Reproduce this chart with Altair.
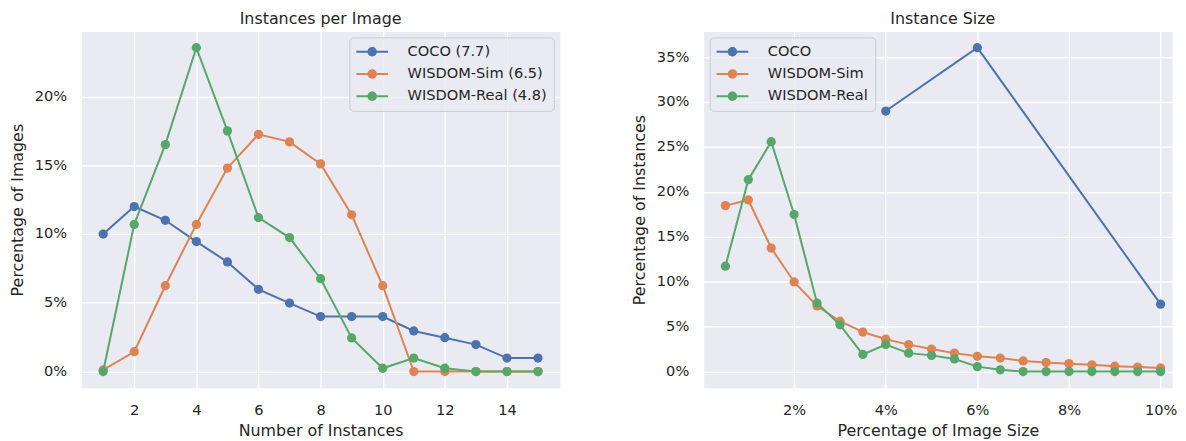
import altair as alt
import pandas as pd

# ---------------- data ----------------
inst_x = [1, 2, 3, 4, 5, 6, 7, 8, 9, 10, 11, 12, 13, 14, 15]
coco_inst = [10.0, 12.0, 11.0, 9.45, 7.97, 5.98, 4.98, 4.0, 4.0, 4.0, 2.95, 2.46, 1.96, 0.98, 0.98]
sim_inst = [0.12, 1.44, 6.24, 10.7, 14.8, 17.25, 16.7, 15.1, 11.4, 6.24, 0.0, 0.0, 0.0, 0.0, 0.0]
real_inst = [0.0, 10.7, 16.5, 23.55, 17.5, 11.2, 9.74, 6.75, 2.44, 0.24, 0.98, 0.24, 0.0, 0.0, 0.0]
inst_labels = ["COCO (7.7)", "WISDOM-Sim (6.5)", "WISDOM-Real (4.8)"]

coco_size_x = [4, 6, 10]
coco_size = [29.0, 36.05, 7.5]
wis_size_x = [0.5, 1.0, 1.5, 2.0, 2.5, 3.0, 3.5, 4.0, 4.5, 5.0,
              5.5, 6.0, 6.5, 7.0, 7.5, 8.0, 8.5, 9.0, 9.5, 10.0]
sim_size = [18.47, 19.1, 13.75, 9.97, 7.3, 5.6, 4.4, 3.6, 3.0, 2.5,
            2.05, 1.7, 1.5, 1.18, 1.0, 0.88, 0.75, 0.6, 0.5, 0.4]
real_size = [11.73, 21.35, 25.58, 17.48, 7.62, 5.2, 1.9, 3.0, 2.05, 1.8,
             1.4, 0.55, 0.2, 0.0, 0.0, 0.0, 0.0, 0.0, 0.0, 0.0]
size_labels = ["COCO", "WISDOM-Sim", "WISDOM-Real"]

colors = ["#4C72B0", "#DD8452", "#55A868"]

left_rows = []
for lab, ys in zip(inst_labels, [coco_inst, sim_inst, real_inst]):
    for x, y in zip(inst_x, ys):
        left_rows.append({"n": x, "pct": y, "series": lab})
left_df = pd.DataFrame(left_rows)

right_rows = []
for lab, xs, ys in zip(size_labels, [coco_size_x, wis_size_x, wis_size_x],
                       [coco_size, sim_size, real_size]):
    for x, y in zip(xs, ys):
        right_rows.append({"s": x, "pct": y, "series2": lab})
right_df = pd.DataFrame(right_rows)

# ---------------- style ----------------
FONT = "DejaVu Sans"
TXT = "#262626"
SYM = ("M-3.2,-0.2L3.2,-0.2L3.2,0.2L-3.2,0.2Z "
       "M0.95,0A0.95,0.95,0,1,1,-0.95,0A0.95,0.95,0,1,1,0.95,0Z")


def legend(orient):
    return alt.Legend(
        title=None, orient=orient, offset=6,
        symbolType=SYM, symbolSize=100, symbolStrokeWidth=0,
        symbolOffset=8.65, labelOffset=28.3,
        labelFont=FONT, labelFontSize=14.7, labelColor=TXT, labelLimit=400,
        rowPadding=6.5, padding=7,
        fillColor="rgba(234,234,242,0.8)", strokeColor="#cccccc", cornerRadius=4,
    )


def title(text, dx=0):
    return alt.TitleParams(text=text, font=FONT, fontSize=16, fontWeight="normal",
                           color=TXT, offset=5, anchor="middle", dx=dx)


def panel(df, sfield, labels, x, y, color, width, ttl):
    layers = []
    for lab in labels:
        sub = alt.Chart(df).transform_filter(alt.datum[sfield] == lab)
        layers.append(sub.mark_line(strokeWidth=2).encode(x=x, y=y, color=color))
        layers.append(sub.mark_circle(size=87, opacity=1).encode(x=x, y=y, color=color))
    return alt.layer(*layers).properties(width=width, height=359, title=ttl)


# ---------------- left panel ----------------
lx = alt.X("n:Q", scale=alt.Scale(domain=[0.3, 15.7], nice=False, zero=False),
           axis=alt.Axis(values=[2, 4, 6, 8, 10, 12, 14], title="Number of Instances",
                         labelPadding=14.5, titlePadding=6))
ly = alt.Y("pct:Q", scale=alt.Scale(domain=[-1.1775, 24.7275], nice=False, zero=False),
           axis=alt.Axis(values=[0, 5, 10, 15, 20], labelExpr="datum.value + '%'",
                         title="Percentage of Images", labelPadding=15, titlePadding=9))
lcolor = alt.Color("series:N", scale=alt.Scale(domain=inst_labels, range=colors),
                   legend=legend("top-right"))
left = panel(left_df, "series", inst_labels, lx, ly, lcolor, 482, title("Instances per Image"))

# ---------------- right panel ----------------
rx = alt.X("s:Q", scale=alt.Scale(domain=[0.025, 10.25], nice=False, zero=False),
           axis=alt.Axis(values=[2, 4, 6, 8, 10], labelExpr="datum.value + '%'",
                         title="Percentage of Image Size", labelPadding=14.5, titlePadding=6))
ry = alt.Y("pct:Q", scale=alt.Scale(domain=[-1.8025, 37.8525], nice=False, zero=False),
           axis=alt.Axis(values=[0, 5, 10, 15, 20, 25, 30, 35], labelExpr="datum.value + '%'",
                         title="Percentage of Instances", labelPadding=15, titlePadding=9))
rcolor = alt.Color("series2:N", scale=alt.Scale(domain=size_labels, range=colors),
                   legend=legend("top-left"))
right = panel(right_df, "series2", size_labels, rx, ry, rcolor, 472, title("Instance Size", dx=5))

chart = (
    alt.hconcat(left, right, spacing=70)
    .resolve_scale(color="independent")
    .resolve_legend(color="independent")
    .properties(padding=0, background="white")
    .configure_view(fill="#EAEAF2", stroke="transparent")
    .configure_axis(
        grid=True, gridColor="white", gridWidth=1.4, domain=False, ticks=False, tickSize=0,
        labelFont=FONT, labelFontSize=14.7, labelColor=TXT,
        titleFont=FONT, titleFontSize=16, titleColor=TXT, titleFontWeight="normal",
    )
)

chart.save("out.html", embed_options={"renderer": "svg", "actions": False})
